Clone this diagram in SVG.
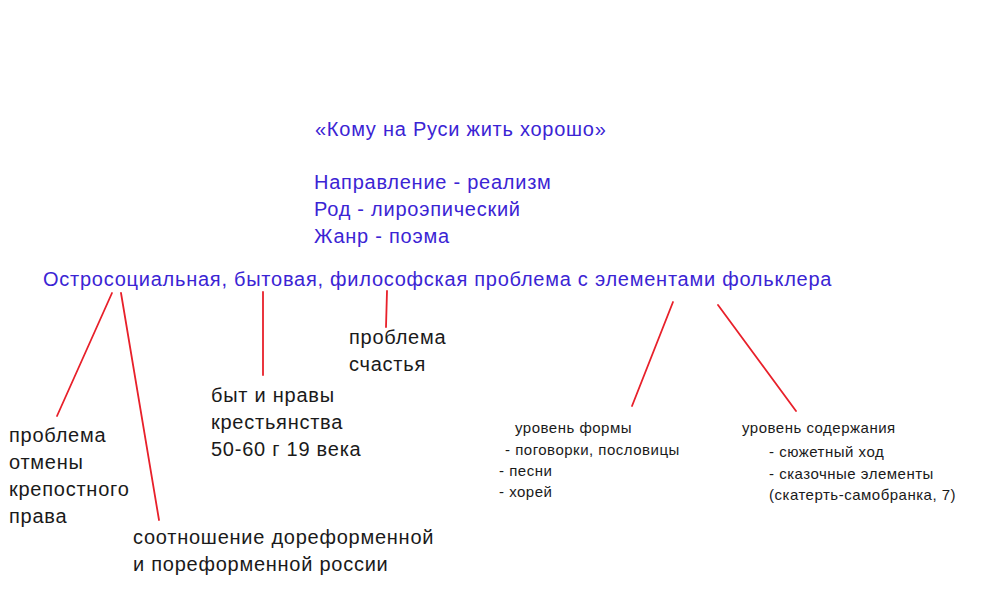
<svg xmlns="http://www.w3.org/2000/svg" width="999" height="589" viewBox="0 0 999 589">
<style>
text{font-family:"Liberation Sans",Arial,sans-serif}
.b{fill:#3b24d4;font-size:20px;letter-spacing:0.75px}
.k{fill:#1a1a1a;font-size:20px;letter-spacing:0.75px}
.s{fill:#1a1a1a;font-size:15px;letter-spacing:0.5px}
.c line{stroke:#e8202a;stroke-width:1.8;stroke-linecap:round}
</style>
<rect width="999" height="589" fill="#ffffff"/>
<g id="header">
<text class="b" x="315" y="136">«Кому на Руси жить хорошо»</text>
<text class="b" x="314" y="189">Направление - реализм</text>
<text class="b" x="314" y="216">Род - лироэпический</text>
<text class="b" x="314" y="243">Жанр - поэма</text>
</g>
<g id="main"><text class="b" x="43" y="286">Остросоциальная, бытовая, философская проблема с элементами фольклера</text></g>
<g class="c" id="connectors">
<line x1="112" y1="293" x2="57" y2="416"/>
<line x1="121" y1="293" x2="159" y2="520"/>
<line x1="263" y1="292" x2="263" y2="375"/>
<line x1="387" y1="291" x2="386" y2="327"/>
<line x1="673" y1="302" x2="632" y2="406"/>
<line x1="718" y1="305" x2="796" y2="411"/>
</g>
<g id="n-schastie"><text class="k" x="349" y="344">проблема</text><text class="k" x="349" y="371">счастья</text></g>
<g id="n-byt"><text class="k" x="211" y="402">быт и нравы</text><text class="k" x="211" y="429">крестьянства</text><text class="k" x="211" y="456">50-60 г 19 века</text></g>
<g id="n-krepost"><text class="k" x="9" y="442">проблема</text><text class="k" x="9" y="469">отмены</text><text class="k" x="9" y="496">крепостного</text><text class="k" x="9" y="523">права</text></g>
<g id="n-reform"><text class="k" x="133" y="544">соотношение дореформенной</text><text class="k" x="133" y="571">и пореформенной россии</text></g>
<g id="n-forma"><text class="s" x="515" y="433">уровень формы</text><text class="s" x="505" y="455">- поговорки, пословицы</text><text class="s" x="499" y="476">- песни</text><text class="s" x="499" y="497">- хорей</text></g>
<g id="n-soderzh"><text class="s" x="742" y="433">уровень содержания</text><text class="s" x="769" y="457">- сюжетный ход</text><text class="s" x="769" y="479">- сказочные элементы</text><text class="s" x="769" y="500">(скатерть-самобранка, 7)</text></g>
</svg>
